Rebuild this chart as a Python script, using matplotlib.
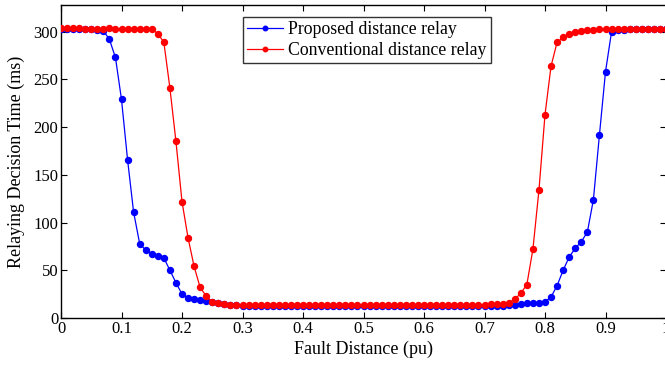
import matplotlib
matplotlib.use("Agg")
import matplotlib.pyplot as plt

fault_distance = [round(i * 0.01, 2) for i in range(101)]

proposed = [
    303, 303, 303, 303, 303, 303, 302, 301, 292, 273,
    229, 166, 111, 78, 71, 67, 65, 63, 50, 37,
    25, 21, 19.5, 19, 18, 16.5, 15.5, 14.5, 14, 13.5,
    13, 13, 13, 13, 13, 13, 13, 13, 13, 13,
    13, 13, 13, 13, 13, 13, 13, 13, 13, 13,
    13, 13, 13, 13, 13, 13, 13, 13, 13, 13,
    13, 13, 13, 13, 13, 13, 13, 13, 13, 13,
    13, 13, 13, 13, 13.5, 14, 15, 15.4, 15.5, 16,
    17, 22, 34, 50, 64, 73, 80, 90, 124, 192,
    258, 300, 301.5, 302, 302.5, 303, 303, 303, 303, 303,
    303,
]

conventional = [
    304, 304, 303.5, 303.5, 303, 303, 303, 303, 303.5, 303,
    303, 303, 303, 303, 303, 303, 298, 289, 241, 185,
    122, 84, 54, 32, 23, 17, 15.5, 14.5, 14, 13.5,
    13.5, 13.5, 13.5, 13.5, 13.5, 13.5, 13.5, 13.5, 13.5, 13.5,
    13.5, 13.5, 13.5, 13.5, 13.5, 13.5, 13.5, 13.5, 13.5, 13.5,
    13.5, 13.5, 13.5, 13.5, 13.5, 13.5, 14, 14, 14, 14,
    14, 14, 14, 14, 14, 14, 14, 14, 14, 14,
    14, 14.5, 14.5, 14.5, 16, 19.5, 26, 35, 72, 134,
    213, 264, 289, 294, 298, 299.5, 301, 301.5, 302, 302.5,
    302.5, 302.5, 303, 303, 303, 303, 303, 303, 303, 303,
    303,
]

x_ticks = [0, 0.1, 0.2, 0.3, 0.4, 0.5, 0.6, 0.7, 0.8, 0.9, 1]
x_tick_labels = ["0", "0.1", "0.2", "0.3", "0.4", "0.5", "0.6", "0.7", "0.8", "0.9", "1"]
y_ticks = [0, 50, 100, 150, 200, 250, 300]

plt.rcParams["font.family"] = ["Liberation Serif", "DejaVu Serif"]

fig = plt.figure(figsize=(6.65, 3.67), dpi=100)
ax = fig.add_axes([61 / 665, 49 / 367, 605 / 665, 313 / 367])

ax.plot(fault_distance, proposed, color="#0000ff", marker="o", markersize=4.3,
        linewidth=0.9, label="Proposed distance relay", zorder=3)
ax.plot(fault_distance, conventional, color="#ff0000", marker="o", markersize=4.3,
        linewidth=0.9, label="Conventional distance relay", zorder=4)

ax.set_xlim(0, 1)
ax.set_ylim(0, 328)
ax.set_xticks(x_ticks)
ax.set_xticklabels(x_tick_labels)
ax.set_yticks(y_ticks)
ax.tick_params(direction="in", top=True, right=True, length=4, width=0.8,
               labelsize=12, pad=2)
for s in ax.spines.values():
    s.set_linewidth(1.0)

ax.set_xlabel("Fault Distance (pu)", fontsize=13, labelpad=3)
ax.set_ylabel("Relaying Decision Time (ms)", fontsize=13, labelpad=6)

leg = ax.legend(loc="upper left", bbox_to_anchor=((243 - 61) / 605, 1 - 12 / 313),
                fontsize=12.8, frameon=True, fancybox=False, edgecolor="black",
                handlelength=2.0, handletextpad=0.3, borderpad=0.25,
                labelspacing=0.2, markerscale=0.75, borderaxespad=0)
leg.get_frame().set_linewidth(1.0)

fig.savefig("out.png", dpi=100)
